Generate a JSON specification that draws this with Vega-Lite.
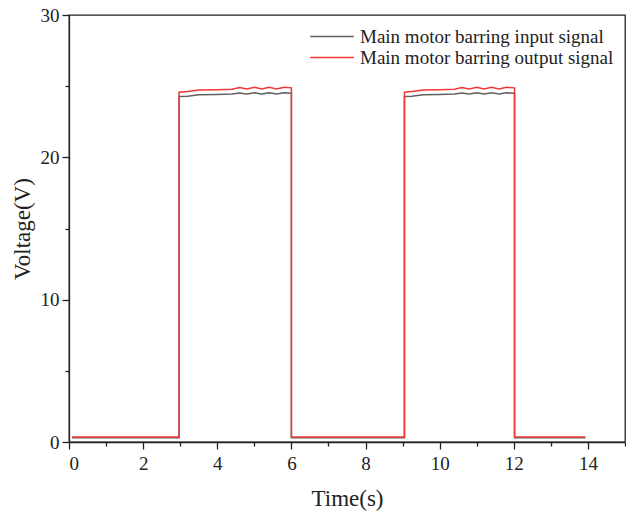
{
  "$schema": "https://vega.github.io/schema/vega-lite/v6.json",
  "autosize": {"type": "none"},
  "width": 556,
  "height": 427,
  "padding": {"left": 69, "top": 15, "right": 1, "bottom": 72},
  "background": "white",
  "config": {
    "view": {"stroke": "#222", "strokeWidth": 1.3},
    "font": "Liberation Serif",
    "axis": {"grid": false, "domainColor": "#222", "tickColor": "#222", "labelColor": "#222", "titleColor": "#222", "labelFont": "Liberation Serif", "titleFont": "Liberation Serif", "labelFontSize": 19, "titleFontSize": 23, "titleFontWeight": "normal", "domainWidth": 1.3, "tickWidth": 1.3}
  },
  "data": {"values": [
    {"s": "Main motor barring input signal", "i": 1, "t": 0.08, "v": 0.3},
    {"s": "Main motor barring input signal", "i": 2, "t": 2.97, "v": 0.3},
    {"s": "Main motor barring input signal", "i": 3, "t": 2.97, "v": 24.27},
    {"s": "Main motor barring input signal", "i": 4, "t": 3.2, "v": 24.3},
    {"s": "Main motor barring input signal", "i": 5, "t": 3.5, "v": 24.4},
    {"s": "Main motor barring input signal", "i": 6, "t": 4.0, "v": 24.42},
    {"s": "Main motor barring input signal", "i": 7, "t": 4.4, "v": 24.45},
    {"s": "Main motor barring input signal", "i": 8, "t": 4.6, "v": 24.52},
    {"s": "Main motor barring input signal", "i": 9, "t": 4.8, "v": 24.45},
    {"s": "Main motor barring input signal", "i": 10, "t": 5.0, "v": 24.53},
    {"s": "Main motor barring input signal", "i": 11, "t": 5.2, "v": 24.45},
    {"s": "Main motor barring input signal", "i": 12, "t": 5.4, "v": 24.53},
    {"s": "Main motor barring input signal", "i": 13, "t": 5.6, "v": 24.45},
    {"s": "Main motor barring input signal", "i": 14, "t": 5.8, "v": 24.53},
    {"s": "Main motor barring input signal", "i": 15, "t": 6.0, "v": 24.5},
    {"s": "Main motor barring input signal", "i": 16, "t": 6.0, "v": 0.3},
    {"s": "Main motor barring input signal", "i": 17, "t": 9.05, "v": 0.3},
    {"s": "Main motor barring input signal", "i": 18, "t": 9.05, "v": 24.27},
    {"s": "Main motor barring input signal", "i": 19, "t": 9.25, "v": 24.3},
    {"s": "Main motor barring input signal", "i": 20, "t": 9.55, "v": 24.4},
    {"s": "Main motor barring input signal", "i": 21, "t": 10.0, "v": 24.42},
    {"s": "Main motor barring input signal", "i": 22, "t": 10.4, "v": 24.45},
    {"s": "Main motor barring input signal", "i": 23, "t": 10.6, "v": 24.52},
    {"s": "Main motor barring input signal", "i": 24, "t": 10.8, "v": 24.45},
    {"s": "Main motor barring input signal", "i": 25, "t": 11.0, "v": 24.53},
    {"s": "Main motor barring input signal", "i": 26, "t": 11.2, "v": 24.45},
    {"s": "Main motor barring input signal", "i": 27, "t": 11.4, "v": 24.53},
    {"s": "Main motor barring input signal", "i": 28, "t": 11.6, "v": 24.45},
    {"s": "Main motor barring input signal", "i": 29, "t": 11.8, "v": 24.53},
    {"s": "Main motor barring input signal", "i": 30, "t": 12.02, "v": 24.5},
    {"s": "Main motor barring input signal", "i": 31, "t": 12.02, "v": 0.3},
    {"s": "Main motor barring input signal", "i": 32, "t": 13.93, "v": 0.3},
    {"s": "Main motor barring output signal", "i": 1, "t": 0.08, "v": 0.35},
    {"s": "Main motor barring output signal", "i": 2, "t": 2.97, "v": 0.35},
    {"s": "Main motor barring output signal", "i": 3, "t": 2.97, "v": 24.58},
    {"s": "Main motor barring output signal", "i": 4, "t": 3.2, "v": 24.62},
    {"s": "Main motor barring output signal", "i": 5, "t": 3.5, "v": 24.73},
    {"s": "Main motor barring output signal", "i": 6, "t": 4.0, "v": 24.75},
    {"s": "Main motor barring output signal", "i": 7, "t": 4.4, "v": 24.78},
    {"s": "Main motor barring output signal", "i": 8, "t": 4.6, "v": 24.9},
    {"s": "Main motor barring output signal", "i": 9, "t": 4.8, "v": 24.8},
    {"s": "Main motor barring output signal", "i": 10, "t": 5.0, "v": 24.92},
    {"s": "Main motor barring output signal", "i": 11, "t": 5.2, "v": 24.8},
    {"s": "Main motor barring output signal", "i": 12, "t": 5.4, "v": 24.92},
    {"s": "Main motor barring output signal", "i": 13, "t": 5.6, "v": 24.8},
    {"s": "Main motor barring output signal", "i": 14, "t": 5.8, "v": 24.92},
    {"s": "Main motor barring output signal", "i": 15, "t": 6.0, "v": 24.88},
    {"s": "Main motor barring output signal", "i": 16, "t": 6.0, "v": 0.35},
    {"s": "Main motor barring output signal", "i": 17, "t": 9.05, "v": 0.35},
    {"s": "Main motor barring output signal", "i": 18, "t": 9.05, "v": 24.58},
    {"s": "Main motor barring output signal", "i": 19, "t": 9.25, "v": 24.62},
    {"s": "Main motor barring output signal", "i": 20, "t": 9.55, "v": 24.73},
    {"s": "Main motor barring output signal", "i": 21, "t": 10.0, "v": 24.75},
    {"s": "Main motor barring output signal", "i": 22, "t": 10.4, "v": 24.78},
    {"s": "Main motor barring output signal", "i": 23, "t": 10.6, "v": 24.9},
    {"s": "Main motor barring output signal", "i": 24, "t": 10.8, "v": 24.8},
    {"s": "Main motor barring output signal", "i": 25, "t": 11.0, "v": 24.92},
    {"s": "Main motor barring output signal", "i": 26, "t": 11.2, "v": 24.8},
    {"s": "Main motor barring output signal", "i": 27, "t": 11.4, "v": 24.92},
    {"s": "Main motor barring output signal", "i": 28, "t": 11.6, "v": 24.8},
    {"s": "Main motor barring output signal", "i": 29, "t": 11.8, "v": 24.92},
    {"s": "Main motor barring output signal", "i": 30, "t": 12.02, "v": 24.88},
    {"s": "Main motor barring output signal", "i": 31, "t": 12.02, "v": 0.35},
    {"s": "Main motor barring output signal", "i": 32, "t": 13.93, "v": 0.35}
  ]},
  "layer": [
    {
      "mark": {"type": "line", "strokeWidth": 1.5, "interpolate": "linear"},
      "encoding": {
        "x": {"field": "t", "type": "quantitative", "scale": {"domain": [0, 15], "nice": false}, "axis": {"title": "Time(s)", "values": [0, 2, 4, 6, 8, 10, 12, 14], "tickSize": 7, "labelPadding": 5, "titlePadding": 14, "labelFont": "Liberation Serif", "titleFont": "Liberation Serif"}},
        "y": {"field": "v", "type": "quantitative", "scale": {"domain": [0, 30], "nice": false}, "axis": {"title": "Voltage(V)", "values": [0, 10, 20, 30], "tickSize": 7, "labelPadding": 3, "titlePadding": 6, "labelFont": "Liberation Serif", "titleFont": "Liberation Serif"}},
        "color": {"field": "s", "type": "nominal", "scale": {"domain": ["Main motor barring input signal", "Main motor barring output signal"], "range": ["#606060", "#f03838"]},
          "legend": {"title": null, "orient": "top-right", "offset": 11, "symbolType": "stroke", "symbolSize": 1900, "symbolStrokeWidth": 1.5, "clipHeight": 21, "labelFont": "Liberation Serif", "labelFontSize": 19, "labelColor": "#222", "labelLimit": 400, "labelOffset": 5, "rowPadding": 0}},
        "order": {"field": "i", "type": "quantitative"}
      }
    },
    {
      "mark": {"type": "point", "opacity": 0},
      "encoding": {
        "x": {"field": "t", "type": "quantitative", "axis": {"orient": "bottom", "title": null, "labels": false, "domain": false, "values": [1, 3, 5, 7, 9, 11, 13, 15], "tickSize": 4}},
        "y": {"field": "v", "type": "quantitative", "axis": {"orient": "left", "title": null, "labels": false, "domain": false, "values": [5, 15, 25], "tickSize": 4}}
      }
    }
  ],
  "resolve": {"axis": {"x": "independent", "y": "independent"}}
}
